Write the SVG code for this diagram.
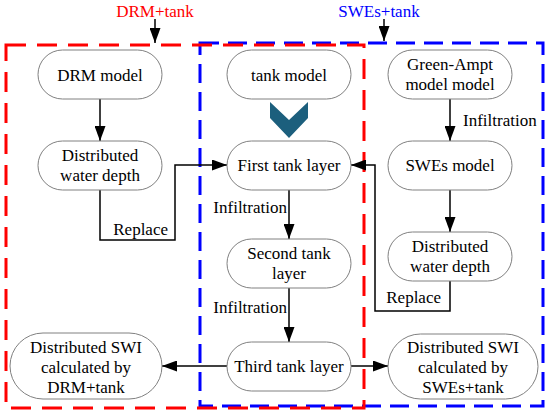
<svg xmlns="http://www.w3.org/2000/svg" width="550" height="415" viewBox="0 0 550 415" font-family="'Liberation Serif', 'Times New Roman', serif">
<defs>
<marker id="ah" viewBox="0 0 15 11" refX="15" refY="5.5" markerWidth="15" markerHeight="11" markerUnits="userSpaceOnUse" orient="auto">
<path d="M0,0 L15,5.5 L0,11 Z" fill="#000"/>
</marker>
</defs>
<style>
.node rect{fill:#fff;stroke:#808080;stroke-width:1}
text{font-family:'Liberation Serif','Times New Roman',serif;font-size:17px;fill:#000}
.c{text-anchor:middle}
.conn{fill:none;stroke:#000;stroke-width:1.5}
</style>
<rect width="550" height="415" fill="#fff"/>
<g id="groups">
<rect x="200" y="43" width="343" height="363" fill="none" stroke="#0000ff" stroke-width="3" stroke-dasharray="19,9"/>
<rect x="6" y="45" width="358" height="363" fill="none" stroke="#ff0000" stroke-width="3" stroke-dasharray="20,11"/>
<text x="155" y="17" class="c" style="fill:#ff0000">DRM+tank</text>
<text x="379" y="17" class="c" style="fill:#0000ff">SWEs+tank</text>
</g>
<g id="connectors">
<path class="conn" d="M155,19 V43" marker-end="url(#ah)"/>
<path class="conn" d="M384,19 V41" marker-end="url(#ah)"/>
<path class="conn" d="M100,99 V141" marker-end="url(#ah)"/>
<path class="conn" d="M100,190 V240 H175 V165 H227" marker-end="url(#ah)"/>
<path class="conn" d="M289,190 V239" marker-end="url(#ah)"/>
<path class="conn" d="M289,288 V342" marker-end="url(#ah)"/>
<path class="conn" d="M450,99 V141" marker-end="url(#ah)"/>
<path class="conn" d="M450,190 V232" marker-end="url(#ah)"/>
<path class="conn" d="M450,281 V311 H375 V165 H351" marker-end="url(#ah)"/>
<path class="conn" d="M227,366 H162" marker-end="url(#ah)"/>
<path class="conn" d="M351,366 H388" marker-end="url(#ah)"/>
<polygon points="270,102 289,120 308,102 308,118 289,138 270,118" fill="#1c5f7d"/>
<text x="168" y="235" text-anchor="end">Replace</text>
<text x="441" y="303" text-anchor="end">Replace</text>
<text x="287" y="213" text-anchor="end">Infiltration</text>
<text x="287" y="313" text-anchor="end">Infiltration</text>
<text x="463" y="126">Infiltration</text>
</g>
<g id="drm-model" class="node"><rect x="38" y="50" width="124" height="49" rx="24.5"/><text x="100" y="81" class="c">DRM model</text></g>
<g id="dwd-left" class="node"><rect x="38" y="141" width="124" height="49" rx="24.5"/><text x="100" y="161" class="c">Distributed</text><text x="100" y="181" class="c">water depth</text></g>
<g id="tank-model" class="node"><rect x="227" y="50" width="124" height="49" rx="24.5"/><text x="289" y="81" class="c">tank model</text></g>
<g id="first-tank" class="node"><rect x="227" y="141" width="124" height="49" rx="24.5"/><text x="289" y="171" class="c">First tank layer</text></g>
<g id="second-tank" class="node"><rect x="227" y="239" width="124" height="49" rx="24.5"/><text x="289" y="259" class="c">Second tank</text><text x="289" y="279" class="c">layer</text></g>
<g id="third-tank" class="node"><rect x="227" y="342" width="124" height="49" rx="24.5"/><text x="289" y="372" class="c">Third tank layer</text></g>
<g id="green-ampt" class="node"><rect x="388" y="50" width="124" height="49" rx="24.5"/><text x="450" y="70" class="c">Green-Ampt</text><text x="450" y="90" class="c">model model</text></g>
<g id="swes-model" class="node"><rect x="388" y="141" width="124" height="49" rx="24.5"/><text x="450" y="171" class="c">SWEs model</text></g>
<g id="dwd-right" class="node"><rect x="388" y="232" width="124" height="49" rx="24.5"/><text x="450" y="252" class="c">Distributed</text><text x="450" y="272" class="c">water depth</text></g>
<g id="swi-drm" class="node"><rect x="10" y="333" width="152" height="66" rx="33"/><text x="86" y="353" class="c">Distributed SWI</text><text x="86" y="373" class="c">calculated by</text><text x="86" y="393" class="c">DRM+tank</text></g>
<g id="swi-swes" class="node"><rect x="388" y="334" width="150" height="65" rx="32.5"/><text x="463" y="353" class="c">Distributed SWI</text><text x="463" y="373" class="c">calculated by</text><text x="463" y="393" class="c">SWEs+tank</text></g>
</svg>
